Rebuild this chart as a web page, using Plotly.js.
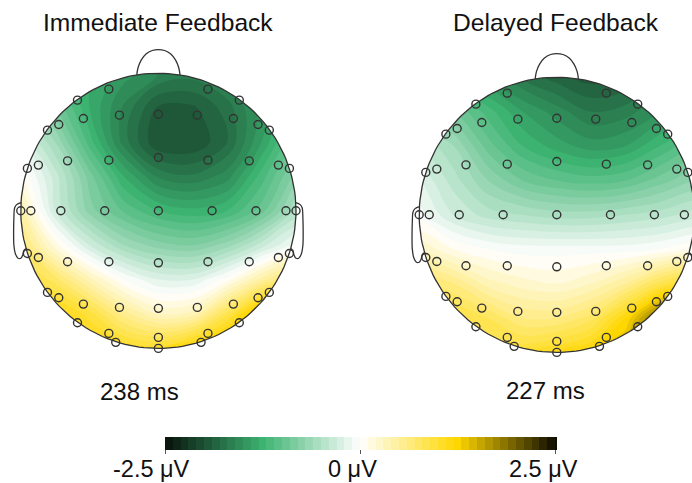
<!DOCTYPE html>
<html>
<head>
<meta charset="utf-8">
<script src="https://cdn.plot.ly/plotly-3.0.1.min.js"></script>
<style>html,body{margin:0;padding:0;background:#fff;}#chart{width:692px;height:483px;}</style>
</head>
<body>
<div id="chart"></div>
<script>
// ---- data ----
const panelTitles = ["Immediate Feedback", "Delayed Feedback"];
const latencies = ["238 ms", "227 ms"];
const colorbarTicks = [-2.5, 0, 2.5];
const colorbarLabels = ["-2.5 μV", "0 μV", "2.5 μV"];

// electrode positions in head-radius units (x: left→right, y: back→front)
const elecX = [-0.36,0.36, -0.588,0.588, -0.545,-0.283,0,0.283,0.545, -0.724,-0.806,0.724,0.806,
  -0.952,-0.872,-0.66,-0.36,0,0.36,0.66,0.872,0.952,
  -1,-0.927,-0.709,-0.39,0,0.39,0.709,0.927,1,
  -0.952,-0.872,-0.66,-0.36,0,0.36,0.66,0.872,0.952,
  -0.806,-0.724,-0.545,-0.283,0,0.283,0.545,0.724,0.806,
  -0.588,0.588, -0.36,0.36,-0.31,0.31, 0,0];
const elecY = [0.884,0.884, 0.804,0.804, 0.671,0.695,0.702,0.695,0.671, 0.627,0.586,0.627,0.586,
  0.308,0.332,0.363,0.368,0.387,0.368,0.363,0.332,0.308,
  0,0,0,0,0,0,0,0,0,
  -0.31,-0.339,-0.37,-0.37,-0.378,-0.37,-0.37,-0.339,-0.31,
  -0.593,-0.632,-0.678,-0.702,-0.709,-0.702,-0.678,-0.632,-0.593,
  -0.814,-0.814, -0.891,-0.891,-0.956,-0.956, -0.92,-1.0];

// scalp potential (μV) read on a grid (rows from front/top to back/bottom)
const gridX = [-1.25,-1,-0.75,-0.5,-0.25,0,0.25,0.5,0.75,1,1.25];
const gridY = [1.25,1,0.75,0.5,0.25,0,-0.25,-0.5,-0.75,-1,-1.25];
const immediateField = [
  [-0.8,-0.9,-1.1,-1.3,-1.45,-1.6,-1.65,-1.55,-1.4,-1.2,-1.0],
  [-0.8,-0.9,-1.1,-1.3,-1.45,-1.6,-1.65,-1.55,-1.4,-1.2,-1.0],
  [-0.5,-0.6,-0.9,-1.3,-1.62,-1.92,-1.92,-1.75,-1.45,-1.15,-1.0],
  [-0.1,-0.2,-0.6,-1.15,-1.65,-2.0,-2.0,-1.8,-1.4,-0.95,-0.8],
  [0.3,0.1,-0.35,-0.85,-1.3,-1.62,-1.68,-1.55,-1.15,-0.75,-0.6],
  [0.6,0.4,-0.3,-0.75,-1.02,-1.2,-1.27,-1.2,-0.95,-0.5,-0.4],
  [0.9,0.7,0.15,-0.3,-0.6,-0.75,-0.8,-0.65,-0.35,-0.05,0.0],
  [1.1,1.0,0.75,0.35,0.0,-0.2,-0.2,0.05,0.45,0.8,0.9],
  [1.2,1.2,1.2,0.95,0.55,0.3,0.35,0.85,1.5,1.6,1.6],
  [1.2,1.2,1.2,1.2,1.1,1.05,1.3,1.55,1.7,1.7,1.7],
  [1.2,1.2,1.2,1.2,1.1,1.05,1.3,1.55,1.7,1.7,1.7]
];
const delayedField = [
  [-1.0,-1.1,-1.3,-1.5,-1.7,-1.85,-1.95,-1.9,-1.7,-1.5,-1.4],
  [-1.0,-1.1,-1.3,-1.5,-1.7,-1.85,-1.95,-1.9,-1.7,-1.5,-1.4],
  [-0.7,-0.8,-0.9,-1.15,-1.4,-1.55,-1.7,-1.65,-1.5,-1.4,-1.3],
  [-0.3,-0.4,-0.6,-0.95,-1.2,-1.35,-1.45,-1.4,-1.2,-1.0,-0.9],
  [-0.1,-0.2,-0.45,-0.7,-0.9,-1.0,-1.05,-1.0,-0.85,-0.7,-0.65],
  [0.0,-0.05,-0.3,-0.45,-0.5,-0.55,-0.55,-0.5,-0.45,-0.35,-0.3],
  [0.4,0.3,0.1,0.0,-0.05,-0.05,-0.05,-0.05,0.0,0.1,0.15],
  [0.8,0.75,0.6,0.35,0.25,0.2,0.3,0.5,0.85,1.1,1.2],
  [1.0,1.0,0.95,0.8,0.6,0.6,0.75,1.2,1.9,2.2,2.2],
  [1.0,1.0,1.0,1.0,1.0,1.1,1.25,1.5,1.9,2.2,2.2],
  [1.0,1.0,1.0,1.0,1.0,1.1,1.25,1.5,1.9,2.2,2.2]
];
const fields = [immediateField, delayedField];

// ---- styling / geometry ----
const colorscale = [[0,'#07110b'],[0.25,'#3cb371'],[0.5,'#ffffff'],[0.75,'#ffd700'],[1,'#0f0c00']];
const lineCol = '#333333';
const FONT = 'Liberation Sans, Arial, Helvetica, sans-serif';
const W = 692, H = 483;

function circlePts(r, n, dir) {
  const xs = [], ys = [];
  for (let i = 0; i <= n; i++) {
    const a = dir * 2 * Math.PI * i / n;
    xs.push(r * Math.cos(a)); ys.push(r * Math.sin(a));
  }
  return [xs, ys];
}
const noseX = [-0.157,-0.148,-0.125,-0.09,-0.045,0,0.045,0.09,0.125,0.148,0.157];
const noseY = [0.988,1.04,1.095,1.14,1.165,1.172,1.165,1.14,1.095,1.04,0.988];
const earX = [-0.998,-1.03,-1.045,-1.05,-1.052,-1.05,-1.04,-1.02,-1.0,-0.985,-0.978,-0.962];
const earY = [0.06,0.045,0.02,-0.05,-0.15,-0.25,-0.31,-0.345,-0.345,-0.32,-0.29,-0.275];

const traces = [];
['', '2'].forEach((s, k) => {
  const xa = 'x' + s, ya = 'y' + s;
  traces.push({
    type: 'contour', x: gridX, y: gridY, z: fields[k], xaxis: xa, yaxis: ya,
    colorscale: colorscale, zmin: -2.5, zmax: 2.5, zauto: false,
    autocontour: false, contours: {start: -2.5, end: 2.5, size: 0.1, coloring: 'fill', showlines: false},
    line: {width: 0, smoothing: 1.0}, hoverinfo: 'skip',
    showscale: k === 0,
    colorbar: {
      orientation: 'h', x: 360/W, xanchor: 'center', y: (H-436.5)/H, yanchor: 'top',
      lenmode: 'pixels', len: 390, thickness: 12.5, xpad: 0, ypad: 0,
      outlinewidth: 0, ticks: 'outside', ticklen: 4, tickcolor: '#555', tickwidth: 1,
      tickmode: 'array', tickvals: colorbarTicks, ticktext: colorbarLabels, showticklabels: false
    }
  });
  // white mask outside the head circle (keyhole polygon)
  const [cx, cy] = circlePts(1.0, 180, -1);
  const mx = [3, 3, -3, -3, 3, 3].concat(cx).concat([3]);
  const my = [0, 3, 3, -3, -3, 0].concat(cy).concat([0]);
  traces.push({type: 'scatter', mode: 'lines', x: mx, y: my, xaxis: xa, yaxis: ya,
    fill: 'toself', fillcolor: '#ffffff', line: {width: 0, color: 'rgba(0,0,0,0)'}, hoverinfo: 'skip', showlegend: false});
  const [hx, hy] = circlePts(1.0, 180, 1);
  traces.push({type: 'scatter', mode: 'lines', x: hx, y: hy, xaxis: xa, yaxis: ya,
    line: {width: 1.3, color: lineCol}, hoverinfo: 'skip', showlegend: false});
  traces.push({type: 'scatter', mode: 'lines', x: noseX, y: noseY, xaxis: xa, yaxis: ya,
    line: {width: 1.3, color: lineCol, shape: 'spline'}, hoverinfo: 'skip', showlegend: false});
  traces.push({type: 'scatter', mode: 'lines', x: earX.concat([null]).concat(earX.map(v => -v)),
    y: earY.concat([null]).concat(earY), xaxis: xa, yaxis: ya, connectgaps: false,
    line: {width: 1.3, color: lineCol, shape: 'spline'}, hoverinfo: 'skip', showlegend: false});
  traces.push({type: 'scatter', mode: 'markers', x: elecX, y: elecY, xaxis: xa, yaxis: ya, cliponaxis: false,
    marker: {symbol: 'circle-open', size: 8, color: '#333', line: {width: 1.4, color: '#333'}},
    hoverinfo: 'skip', showlegend: false});
});

const hide = {visible: false, showgrid: false, zeroline: false, fixedrange: true};
const txt = (t, px, py, size) => ({text: t, x: px/W, y: 1 - py/H, xref: 'paper', yref: 'paper',
  xanchor: 'center', yanchor: 'middle', showarrow: false, borderpad: 0,
  font: {family: FONT, size: size, color: '#111'}});
const layout = {
  width: W, height: H, autosize: false,
  margin: {l: 0, r: 0, t: 0, b: 0, pad: 0},
  paper_bgcolor: '#ffffff', plot_bgcolor: '#ffffff', showlegend: false,
  xaxis: Object.assign({domain: [0, 330/W], range: [-1.151, 1.247]}, hide),
  yaxis: Object.assign({domain: [103/H, 453/H], range: [-1.2297, 1.314]}, hide),
  xaxis2: Object.assign({domain: [390/W, 1], range: [-1.2122, 0.98256], anchor: 'y2'}, hide),
  yaxis2: Object.assign({domain: [103/H, 453/H], range: [-1.2006, 1.343], anchor: 'x2'}, hide),
  annotations: [
    txt(panelTitles[0], 158.4, 22.5, 24.6),
    txt(panelTitles[1], 556, 22.5, 24.6),
    txt(latencies[0], 139, 391, 24),
    txt(latencies[1], 545, 390, 24),
    txt(colorbarLabels[0], 151, 469, 23.5),
    txt(colorbarLabels[1], 352.5, 469, 23.5),
    txt(colorbarLabels[2], 543.5, 469, 23.5)
  ],
  shapes: [
    {type: 'line', xref: 'paper', yref: 'paper', x0: 165/W, x1: 555/W, y0: (H-449.5)/H, y1: (H-449.5)/H,
     line: {color: '#666', width: 1}}
  ]
};

Plotly.newPlot('chart', traces, layout, {staticPlot: true, displayModeBar: false});
</script>
</body>
</html>
